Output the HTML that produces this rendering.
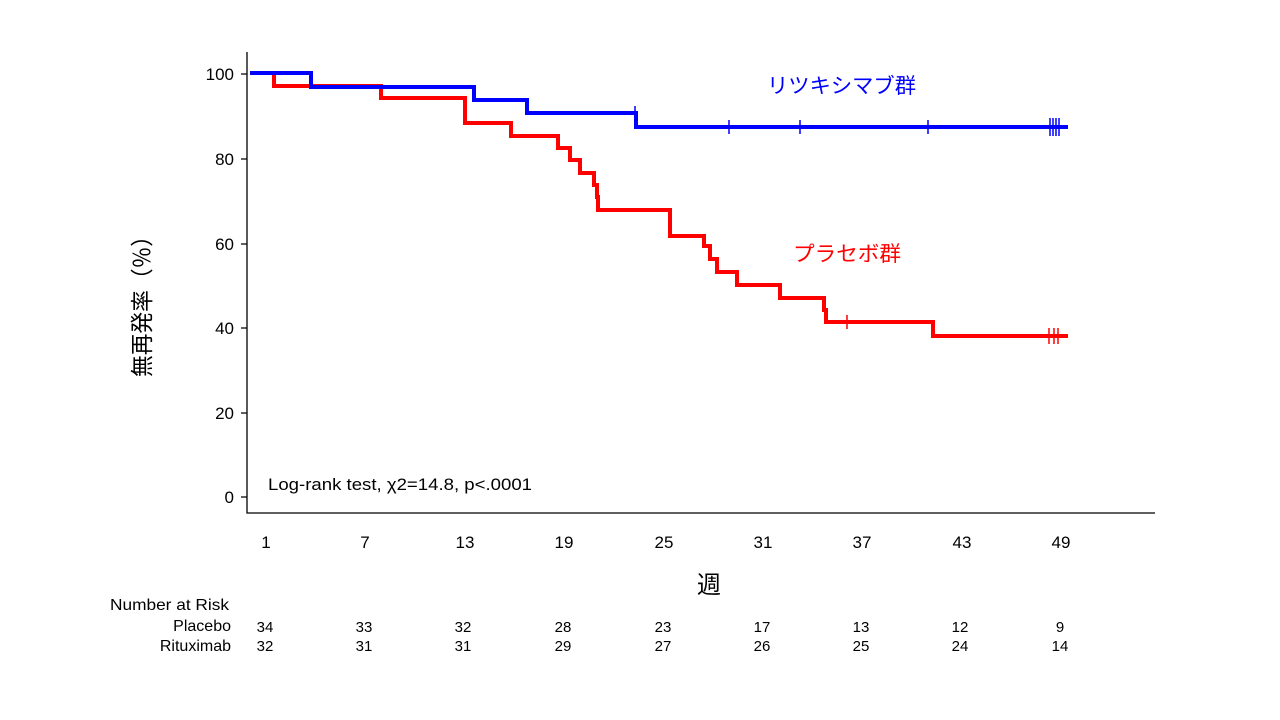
<!DOCTYPE html>
<html><head><meta charset="utf-8"><style>
body{margin:0;background:#fff;}
svg{display:block;}
text{font-family:"Liberation Sans","Noto Sans CJK JP",sans-serif;}
</style></head><body>
<svg width="1280" height="720" viewBox="0 0 1280 720" xmlns="http://www.w3.org/2000/svg">
<rect width="1280" height="720" fill="#fff"/>
<g stroke="#000" stroke-width="1.3" fill="none">
<path d="M247,52 V513 H1155"/>
<path d="M241,74H247M241,159H247M241,244H247M241,328H247M241,413H247M241,497H247"/>
</g>
<g font-size="17" text-anchor="end" fill="#000">
<text x="234" y="80">100</text><text x="234" y="165">80</text><text x="234" y="250">60</text>
<text x="234" y="334">40</text><text x="234" y="419">20</text><text x="234" y="503">0</text>
</g>
<g font-size="17" text-anchor="middle" fill="#000">
<text x="266" y="548">1</text><text x="365" y="548">7</text><text x="465" y="548">13</text>
<text x="564" y="548">19</text><text x="664" y="548">25</text><text x="763" y="548">31</text>
<text x="862" y="548">37</text><text x="962" y="548">43</text><text x="1061" y="548">49</text>
</g>
<text x="709" y="593" font-size="24" text-anchor="middle">週</text>
<text transform="translate(150,301) rotate(-90)" font-size="23" text-anchor="middle" textLength="152" lengthAdjust="spacingAndGlyphs">無再発率（％）</text>
<text x="268" y="490" font-size="17" textLength="264" lengthAdjust="spacingAndGlyphs">Log-rank test, χ2=14.8, p&lt;.0001</text>
<text x="767" y="93" font-size="21" fill="#0000ff" textLength="149" lengthAdjust="spacingAndGlyphs">リツキシマブ群</text>
<text x="793" y="261" font-size="21" fill="#ff0000" textLength="108" lengthAdjust="spacingAndGlyphs">プラセボ群</text>
<g fill="none" stroke-width="4" stroke-linejoin="miter">
<path stroke="#ff0000" d="M250,73H274V86H381V98H465V123H511V136H558V148H570V160H580V173H594V185H597V197H598V210H670V236H704V246H710V259H717V272H737V285H780V298H824V310H826V322H933V336H1068"/>
<path stroke="#0000ff" d="M250,73H311V87H474V100H527V113H636V127H1068"/>
</g>
<g stroke-width="1.5">
<path stroke="#0000ff" d="M635,106V120M729,120V134M800,120V134M928,120V134M1050,118V136M1053,118V136M1056,118V136M1059,118V136"/>
<path stroke="#ff0000" d="M847,315V329M1049,328V344M1054,328V344M1058,328V344"/>
</g>
<g font-size="16" fill="#000">
<text x="110" y="610" textLength="119" lengthAdjust="spacingAndGlyphs">Number at Risk</text>
<text x="231" y="631" text-anchor="end">Placebo</text>
<text x="231" y="651" text-anchor="end">Rituximab</text>
</g>
<g font-size="15" fill="#000" text-anchor="middle">
<text x="265" y="632">34</text><text x="364" y="632">33</text><text x="463" y="632">32</text><text x="563" y="632">28</text><text x="663" y="632">23</text><text x="762" y="632">17</text><text x="861" y="632">13</text><text x="960" y="632">12</text><text x="1060" y="632">9</text>
<text x="265" y="651">32</text><text x="364" y="651">31</text><text x="463" y="651">31</text><text x="563" y="651">29</text><text x="663" y="651">27</text><text x="762" y="651">26</text><text x="861" y="651">25</text><text x="960" y="651">24</text><text x="1060" y="651">14</text>
</g>
</svg>
</body></html>
